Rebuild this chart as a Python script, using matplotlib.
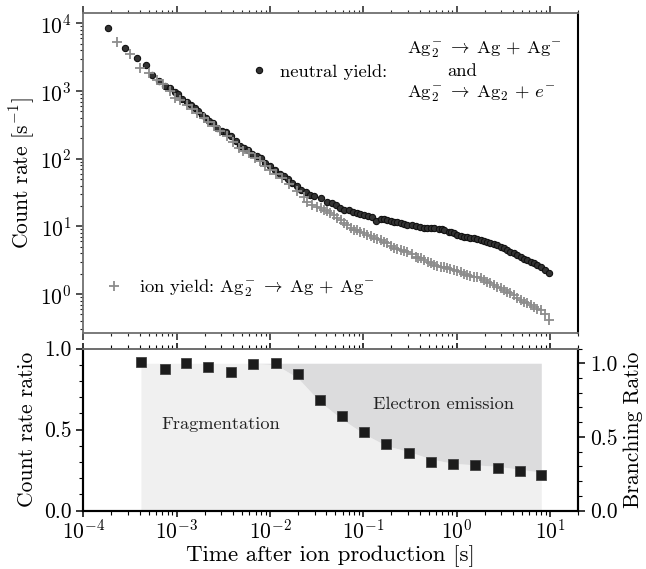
import matplotlib
matplotlib.use("Agg")
import matplotlib.pyplot as plt
from matplotlib.lines import Line2D
from matplotlib.ticker import MultipleLocator, FormatStrFormatter

plt.rcParams["font.family"] = "serif"
plt.rcParams["font.serif"] = ["cmr10"]
plt.rcParams["mathtext.fontset"] = "cm"
plt.rcParams["axes.formatter.use_mathtext"] = True

# neutral yield (fragmentation + electron emission)
t_neutral = [1.84e-4, 2.78e-4, 3.72e-4, 4.65e-4, 5.5e-4, 6.5e-4, 7.55e-4, 8.5e-4, 9.5e-4, 1.03e-3,
             1.13e-3, 1.29e-3, 1.43e-3, 1.56e-3, 1.70e-3, 1.87e-3, 2.05e-3, 2.22e-3, 2.44e-3, 2.7e-3,
             3.06e-3, 3.37e-3, 3.82e-3, 4.3e-3, 4.8e-3, 5.25e-3, 5.8e-3, 6.45e-3, 7.2e-3, 8.0e-3,
             8.85e-3, 9.9e-3, 1.13e-2, 1.27e-2, 1.41e-2, 1.56e-2, 1.73e-2, 1.95e-2, 2.15e-2, 2.4e-2,
             2.7e-2, 2.98e-2, 3.48e-2, 4.1e-2, 4.62e-2, 5.05e-2, 5.6e-2, 6.2e-2, 7.0e-2, 7.8e-2,
             8.6e-2, 9.3e-2, 0.101, 0.113, 0.124, 0.135, 0.153, 0.167, 0.181, 0.197,
             0.213, 0.232, 0.251, 0.27, 0.296, 0.331, 0.364, 0.401, 0.445, 0.48,
             0.524, 0.577, 0.646, 0.69, 0.733, 0.83, 0.87, 0.925, 1.01, 1.1,
             1.19, 1.3, 1.4, 1.52, 1.64, 1.8, 1.94, 2.12, 2.3, 2.5,
             2.72, 2.95, 3.21, 3.48, 3.76, 4.1, 4.44, 4.86, 5.28, 5.7,
             6.2, 6.7, 7.3, 7.95, 8.8, 9.75]
neutral = [8600, 4400, 3100, 2400, 1750, 1420, 1200, 1110, 970, 890,
           775, 690, 615, 560, 505, 440, 395, 365, 338, 285,
           255, 245, 214, 180, 156, 142, 133, 118, 108, 101,
           86, 77, 68, 60, 55, 51, 44, 39, 35, 32,
           29.5, 27.8, 26.2, 23.3, 22, 20.8, 19, 17.5, 17.3, 16.2,
           15.7, 15.2, 14.8, 14.4, 14.0, 12.2, 12.9, 12.8, 12.5, 12.1,
           11.8, 11.5, 11.2, 10.8, 10.5, 10.4, 10.2, 9.8, 9.4, 9.5,
           9.4, 9.5, 9.3, 9.0, 8.7, 8.4, 8.2, 7.9, 7.5, 7.2,
           7.0, 6.9, 6.8, 6.7, 6.5, 6.3, 6.1, 5.96, 5.7, 5.5,
           5.25, 5.0, 4.75, 4.5, 4.25, 4.0, 3.75, 3.5, 3.35, 3.19,
           3.0, 2.85, 2.65, 2.49, 2.25, 2.03]

# ion yield (fragmentation only)
t_ion = [2.3e-4, 3.2e-4, 4.03e-4, 5.07e-4, 6.1e-4, 7.15e-4, 8.5e-4, 9.6e-4, 1.08e-3, 1.29e-3,
         1.46e-3, 1.64e-3, 1.94e-3, 2.17e-3, 2.48e-3, 2.93e-3, 3.45e-3, 4.02e-3, 4.6e-3, 5.15e-3,
         5.9e-3, 6.83e-3, 7.85e-3, 8.85e-3, 1.0e-2, 1.17e-2, 1.34e-2, 1.6e-2, 1.95e-2, 2.3e-2,
         2.5e-2, 2.83e-2, 3.15e-2, 3.48e-2, 3.8e-2, 4.1e-2, 4.44e-2, 4.85e-2, 5.27e-2, 5.72e-2,
         6.18e-2, 6.72e-2, 7.36e-2, 7.95e-2, 8.6e-2, 9.3e-2, 0.101, 0.11, 0.12, 0.13,
         0.141, 0.153, 0.167, 0.181, 0.197, 0.213, 0.232, 0.251, 0.27, 0.296,
         0.331, 0.364, 0.384, 0.41, 0.445, 0.489, 0.533, 0.577, 0.62, 0.673,
         0.733, 0.795, 0.855, 0.925, 1.01, 1.1, 1.19, 1.3, 1.4, 1.52,
         1.66, 1.8, 1.96, 2.12, 2.3, 2.5, 2.72, 2.95, 3.21, 3.48,
         3.76, 4.1, 4.44, 4.86, 5.28, 5.7, 6.2, 6.7, 7.3, 7.95,
         8.8, 9.75]
ion = [5300, 3470, 2210, 1820, 1480, 1250, 990, 795, 750, 630,
       550, 475, 400, 345, 308, 254, 214, 175, 144, 130,
       121, 104, 91, 78, 69, 60, 52, 43, 33, 27.5,
       23.3, 20.8, 19.5, 18.6, 17.5, 16.6, 15.6, 14.8, 13.5, 12.5,
       11.4, 10.5, 9.6, 8.9, 8.7, 8.4, 7.9, 7.5, 7.1, 6.7,
       6.5, 6.3, 5.95, 5.6, 5.1, 4.75, 4.6, 4.5, 4.35, 4.24,
       3.9, 3.57, 3.45, 3.37, 3.15, 3.0, 2.85, 2.69, 2.6, 2.54,
       2.47, 2.4, 2.33, 2.27, 2.2, 2.14, 2.0, 1.91, 1.86, 1.81,
       1.76, 1.71, 1.6, 1.52, 1.44, 1.36, 1.28, 1.21, 1.14, 1.08,
       1.02, 0.97, 0.88, 0.81, 0.77, 0.73, 0.69, 0.65, 0.61, 0.58,
       0.5, 0.42]

# count rate ratio and branching fit
t_ratio = [4.14e-4, 7.43e-4, 1.25e-3, 2.17e-3, 3.8e-3, 6.55e-3, 1.15e-2, 1.99e-2, 3.4e-2, 5.9e-2,
           0.102, 0.176, 0.306, 0.527, 0.908, 1.58, 2.74, 4.71, 8.05]
ratio = [0.917, 0.874, 0.909, 0.888, 0.855, 0.907, 0.909, 0.843, 0.685, 0.586,
         0.487, 0.412, 0.356, 0.302, 0.288, 0.280, 0.261, 0.244, 0.222]
frag_branch = [1.0, 1.0, 1.0, 1.0, 1.0, 1.0, 0.99, 0.90, 0.74, 0.62,
               0.52, 0.44, 0.40, 0.35, 0.32, 0.31, 0.30, 0.28, 0.26]

ag2m = r"\mathrm{Ag}_2^{-}"
arrow = r"\;\rightarrow\;"
plus = r"\,+\,"

gray = "#707070"
fig = plt.figure(figsize=(6.46, 5.69), dpi=100)
ax1 = fig.add_axes([0.129, 0.4142, 0.766, 0.5621])
ax2 = fig.add_axes([0.129, 0.1028, 0.766, 0.2847], sharex=ax1)
ax3 = ax2.twinx()

# top panel
ax1.plot(t_neutral, neutral, "o", color="#333333", mec="#111111", ms=4.5, mew=0.8)
ax1.plot(t_ion, ion, "+", color="#8c8c8c", ms=7.5, mew=1.3)
ax1.set_xscale("log")
ax1.set_yscale("log")
ax1.set_xlim(1e-4, 20)
ax1.set_ylim(0.263, 1.4e4)
ax1.set_ylabel(r"Count rate [s$^{-1}$]", fontsize=15.5)
ax1.tick_params(which="both", direction="out", top=True, bottom=True, right=False,
                labelbottom=False, labelsize=15.5, color="#222222")
ax1.tick_params(which="major", length=5, width=1.1)
ax1.tick_params(which="minor", length=2.5, width=0.8)
for side in ["left", "top", "bottom"]:
    ax1.spines[side].set_color(gray)
    ax1.spines[side].set_linewidth(1.3)
ax1.spines["right"].set_color("black")
ax1.spines["right"].set_linewidth(1.5)

h_neu = Line2D([], [], ls="none", marker="o", color="#333333", mec="#111111", ms=4.5, mew=0.8)
h_ion = Line2D([], [], ls="none", marker="+", color="#8c8c8c", ms=7.5, mew=1.3)
leg1 = ax1.legend([h_neu], ["neutral yield:"], loc="center left", bbox_to_anchor=(0.337, 0.818),
                  frameon=False, fontsize=13.4, handlelength=1.0, handletextpad=0.6,
                  borderpad=0, borderaxespad=0)
ax1.add_artist(leg1)
ax1.legend([h_ion], [r"ion yield: $" + ag2m + arrow + r"\mathrm{Ag}" + plus + r"\mathrm{Ag}^{-}$"],
           loc="center left", bbox_to_anchor=(0.0425, 0.141), frameon=False, fontsize=13.4,
           handlelength=1.0, handletextpad=0.85, borderpad=0, borderaxespad=0)
ax1.text(0.654, 0.886, "$" + ag2m + arrow + r"\mathrm{Ag}" + plus + r"\mathrm{Ag}^{-}$",
         transform=ax1.transAxes, fontsize=13.4, va="center", ha="left")
ax1.text(0.736, 0.818, "and", transform=ax1.transAxes, fontsize=13.4, va="center", ha="left")
ax1.text(0.654, 0.750, "$" + ag2m + arrow + r"\mathrm{Ag}_2" + plus + r"e^{-}$",
         transform=ax1.transAxes, fontsize=13.4, va="center", ha="left")

# bottom panel: shaded branching regions on right axis, ratio squares on left axis
ax3.fill_between(t_ratio, 0, frag_branch, color="#f0f0f0", lw=0)
ax3.fill_between(t_ratio, frag_branch, 1.0, color="#dcdcdd", lw=0)
ax3.set_ylim(0, 1.1)
ax3.yaxis.set_major_locator(MultipleLocator(0.5))
ax3.yaxis.set_minor_locator(MultipleLocator(0.1))
ax3.yaxis.set_major_formatter(FormatStrFormatter("%.1f"))
ax3.set_ylabel("Branching Ratio", fontsize=15.5)
ax3.tick_params(which="both", direction="out", labelsize=15.5)
ax3.tick_params(which="major", length=5, width=1.1)
ax3.tick_params(which="minor", length=3, width=0.8)

ax2.set_zorder(ax3.get_zorder() + 1)
ax2.patch.set_visible(False)
ax2.plot(t_ratio, ratio, "s", color="#1c1c1c", mec="#444444", ms=7.5, mew=0.6)
ax2.set_ylim(0, 1.0)
ax2.yaxis.set_major_locator(MultipleLocator(0.5))
ax2.yaxis.set_minor_locator(MultipleLocator(0.1))
ax2.yaxis.set_major_formatter(FormatStrFormatter("%.1f"))
ax2.set_ylabel("Count rate ratio", fontsize=15.5)
ax2.set_xlabel("Time after ion production [s]", fontsize=16.5)
ax2.tick_params(which="both", direction="out", top=True, bottom=True, labelsize=15.5)
ax2.tick_params(which="major", length=5, width=1.1)
ax2.tick_params(which="minor", length=3, width=0.8)
ax2.tick_params(axis="x", which="major", length=4, pad=1.5)
ax2.text(0.278, 0.531, "Fragmentation", transform=ax2.transAxes, fontsize=13.2,
         ha="center", va="center", color="#222222")
ax2.text(0.727, 0.654, "Electron emission", transform=ax2.transAxes, fontsize=13.2,
         ha="center", va="center", color="#222222")

for a in [ax2, ax3]:
    for side in ["left", "bottom", "right"]:
        a.spines[side].set_color("black")
        a.spines[side].set_linewidth(1.5)
    a.spines["top"].set_color(gray)
    a.spines["top"].set_linewidth(1.3)

ax1.yaxis.set_label_coords(-0.093, 0.5)
ax2.yaxis.set_label_coords(-0.093, 0.5)
ax2.xaxis.set_label_coords(0.5, -0.215)

fig.savefig("out.png", dpi=100)
